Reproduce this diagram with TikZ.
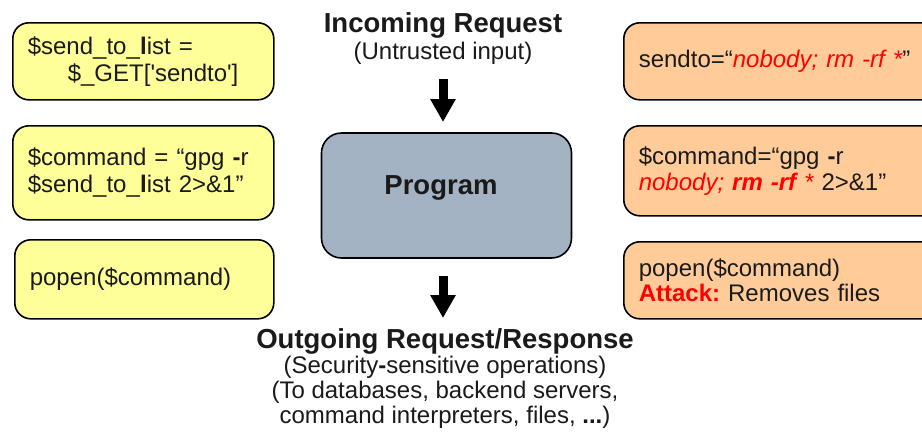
\documentclass[tikz,border=0pt]{standalone}
\usepackage{fontspec}
\setmainfont{Liberation Sans}
\usetikzlibrary{arrows.meta}
\definecolor{boxyellow}{HTML}{FFFF99}
\definecolor{boxpeach}{HTML}{FFCC99}
\definecolor{progblue}{HTML}{A4B3C3}
\definecolor{attackred}{HTML}{FF0000}
\definecolor{inkblack}{HTML}{1A1A1A}
\newcommand{\normtext}{\fontsize{24}{27}\selectfont}
\newcommand{\bigbold}{\fontsize{27.5}{30}\selectfont\bfseries}
\newcommand{\rd}[1]{\textcolor{attackred}{#1}}
\begin{document}
\begin{tikzpicture}[x=1pt,y=-1pt,
  codebox/.style={draw=black, line width=1.6pt, rounded corners=16pt, anchor=north west,
    align=left, inner xsep=15pt, inner ysep=0pt, font=\normtext, text=inkblack},
  yellowbox/.style={codebox, fill=boxyellow, text width=231pt},
  peachbox/.style={codebox, fill=boxpeach, text width=285pt},
  titletext/.style={font=\bigbold, text=inkblack, anchor=base, inner sep=0pt},
  subtext/.style={font=\normtext, text=inkblack, anchor=base, inner sep=0pt},
  bigarrow/.style={line width=9pt, -{Triangle[width=24pt,length=23pt]}}
]
\clip (0,0) rectangle (922,437);
\fill[white] (0,0) rectangle (922,437);

% left column
\node[yellowbox, minimum height=77pt] (l1) at (12,22)
  {\$send\_to\_\textbf{l}ist =\\\hspace*{40pt}\$\_GET[\textquotesingle sendto\textquotesingle]};
\node[yellowbox, minimum height=94pt] (l2) at (12,125)
  {\$command = “gpg \textbf{-}r\\\$send\_to\_\textbf{l}ist 2>\&1”};
\node[yellowbox, minimum height=79pt, text width=229pt] (l3) at (14,239)
  {popen(\$command)};

% right column
\node[peachbox, minimum height=77pt] (r1) at (623,22)
  {sendto=“\rd{\itshape nobody; rm -rf *}”};
\node[peachbox, minimum height=90pt] (r2) at (623,125)
  {\$command=“gpg \textbf{-}r\\[-1pt]\rd{\itshape nobody; \textbf{rm -rf} *} 2>\&1”};
\node[peachbox, minimum height=77pt, font=\fontsize{24}{25}\selectfont] (r3) at (623,241)
  {popen(\$command)\\\rd{\bfseries Attack:}\hspace{-4pt} Removes files};

% centre
\node[titletext] (inc) at (443,32) {Incoming Request};
\node[subtext] (unt) at (443,59) {(Untrusted input)};
\node[draw=black, line width=1.6pt, rounded corners=20pt, fill=progblue,
      minimum width=250pt, minimum height=125pt, font=\bigbold, text=inkblack,
      text depth=20.5pt]
      (prog) at (446.5,195.5) {\hspace*{-11pt}Program};
\coordinate (a1s) at (443,79);
\coordinate (a1e) at (443,122);
\coordinate (a2s) at (443,276);
\coordinate (a2e) at (443,318);
\draw[bigarrow] (a1s) -- (a1e);
\draw[bigarrow] (a2s) -- (a2e);

\node[titletext] (out) at (445,348) {Outgoing Request/Response};
\node[subtext] (sec) at (445,373) {(Security\textbf{-}sensitive operations)};
\node[subtext] (tod) at (445,398) {(To databases, backend servers,};
\node[subtext] (cmd) at (445,423) {command interpreters, files, \textbf{...})};
\end{tikzpicture}
\end{document}
